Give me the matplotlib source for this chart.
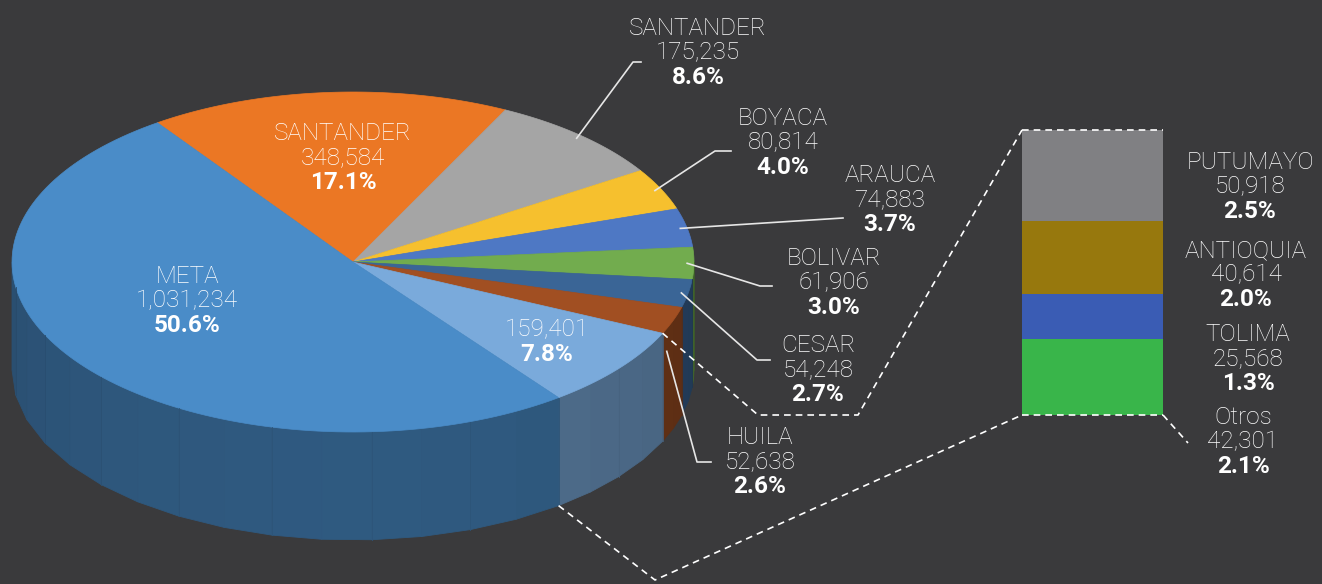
import numpy as np
import matplotlib
matplotlib.use("Agg")
import matplotlib.pyplot as plt
from matplotlib.patches import Polygon
import matplotlib.colors as mcolors

# pie slices, clockwise from the upper-left boundary
pie_names = ["SANTANDER", "SANTANDER", "BOYACA", "ARAUCA", "BOLIVAR",
             "CESAR", "HUILA", "", "META"]
bar_names = ["PUTUMAYO", "ANTIOQUIA", "TOLIMA", "Otros"]
bar_values = [50918, 40614, 25568, 42301]
pie_values = [348584, 175235, 80814, 74883, 61906, 54248, 52638,
              sum(bar_values), 1031234]

pie_colors = ["#eb7724", "#a5a5a5", "#f6c02e", "#4e78c4", "#72ac4e",
              "#3a6596", "#a14f22", "#7aaadb", "#4a8cc8"]
bar_colors = ["#808083", "#97780d", "#3a5cb4", "#39b54a"]
bg = "#3a3a3c"

total = sum(pie_values)

fig = plt.figure(figsize=(13.22, 5.84), dpi=100)
fig.patch.set_facecolor(bg)
ax = fig.add_axes([0, 0, 1, 1])
ax.set_facecolor(bg)
ax.set_xlim(0, 1322)
ax.set_ylim(584, 0)
ax.axis("off")

# pie geometry (pixels)
cx, cy, ra, rb, depth = 353, 262, 341, 170, 108
start = 125.0


def pt(t, r=1.0, drop=0.0):
    t = np.radians(t)
    return cx + ra * r * np.cos(t), cy - rb * r * np.sin(t) + drop


bounds = start - np.concatenate([[0], np.cumsum(pie_values)]) / total * 360

# side walls (front half only)
for i, col in enumerate(pie_colors):
    t0, t1 = bounds[i], bounds[i + 1]
    for lo, hi in [(-180, 0), (-540, -360)]:
        a, b = max(t1, lo), min(t0, hi)
        if a >= b:
            continue
        n = max(2, int((b - a) / 9) + 1)
        ts = np.linspace(b, a, n + 1)
        base = np.array(mcolors.to_rgb(col))
        for k in range(n):
            tm = 0.5 * (ts[k] + ts[k + 1])
            shade = 0.56 + 0.08 * (-np.sin(np.radians(tm)))
            c = base * shade
            poly = [pt(ts[k]), pt(ts[k + 1]),
                    pt(ts[k + 1], drop=depth), pt(ts[k], drop=depth)]
            ax.add_patch(Polygon(poly, closed=True, facecolor=c,
                                 edgecolor=c, lw=0.6))
            if k % 2 == 0:
                ax.plot(*zip(pt(ts[k]), pt(ts[k], drop=depth)),
                        color=base * (shade - 0.03), lw=0.6)

# top face
for i, col in enumerate(pie_colors):
    ts = np.linspace(bounds[i], bounds[i + 1], 120)
    poly = [(cx, cy)] + [pt(t) for t in ts]
    ax.add_patch(Polygon(poly, closed=True, facecolor=col,
                         edgecolor=col, lw=0.5))

fams = ["Roboto", "DejaVu Sans"]
name_font = dict(family=fams, fontweight="light", fontsize=17.5,
                 color="white", ha="center", va="center")
pct_font = dict(family=fams, fontweight="bold", fontsize=17.5,
                color="white", ha="center", va="center")
line_h = 24.5


def label(x, y, name, value, pct):
    y0 = y - line_h
    ax.text(x, y0, name, **name_font)
    ax.text(x, y0 + line_h, "{:,}".format(value), **name_font)
    ax.text(x, y0 + 2 * line_h, "{:.1f}%".format(pct), **pct_font)


# label positions (centre of middle line) for each pie slice
inside = {0: (343, 158), 7: (547, 330), 8: (187, 301)}
outside = {1: (698, 53), 2: (783, 143), 3: (890, 200), 4: (834, 283),
           5: (818, 370), 6: (760, 462)}
leaders = {1: [(633, 62), (641, 62)], 2: [(715, 151), (731, 151)],
           3: [(843, 218)], 4: [(760, 286), (772, 286)],
           5: [(757, 360), (770, 360)], 6: [(697, 462), (711, 462)]}
leader_drop = {6: 32}

for i, v in enumerate(pie_values):
    pct = v / total * 100
    if i in inside:
        x, y = inside[i]
        if pie_names[i]:
            label(x, y, pie_names[i], v, pct)
        else:
            ax.text(x, y, "{:,}".format(v), **name_font)
            ax.text(x, y + line_h, "{:.1f}%".format(pct), **pct_font)
    else:
        x, y = outside[i]
        label(x, y, pie_names[i], v, pct)
        mid = 0.5 * (bounds[i] + bounds[i + 1])
        p0 = pt(mid, 0.98, leader_drop.get(i, 0))
        pts = [p0] + leaders[i]
        ax.plot([p[0] for p in pts], [p[1] for p in pts],
                color="#e6e6e6", lw=1.2)

# bar of pie
bx, bw, btop, bh = 1022, 141, 130, 285
scale = bh / sum(bar_values)
bottom = btop
for v, col in zip(bar_values, bar_colors):
    ax.bar(bx + bw / 2, v * scale, bottom=bottom, width=bw, color=col,
           align="center")
    bottom += v * scale

bar_label_pos = [(1250, 187), (1246, 275), (1248, 359), (1243, 442)]
for (x, y), n, v in zip(bar_label_pos, bar_names, bar_values):
    label(x, y, n, v, v / total * 100)

# dashed series lines
dash = dict(color="white", lw=1.2, ls=(0, (4, 3)))
p_a = pt(bounds[7])
p_b = pt(bounds[8], drop=depth)
ax.plot([p_a[0], 758, 858, bx], [p_a[1], 415, 415, btop], **dash)
ax.plot([p_b[0], 655, bx], [p_b[1], 580, btop + bh], **dash)
ax.plot([bx, bx + bw], [btop, btop], **dash)
ax.plot([bx, bx + bw], [btop + bh, btop + bh], **dash)
ax.plot([bx + bw, bx + bw + 25], [btop + bh, btop + bh + 28], **dash)

fig.savefig("out.png", dpi=100, facecolor=bg)
